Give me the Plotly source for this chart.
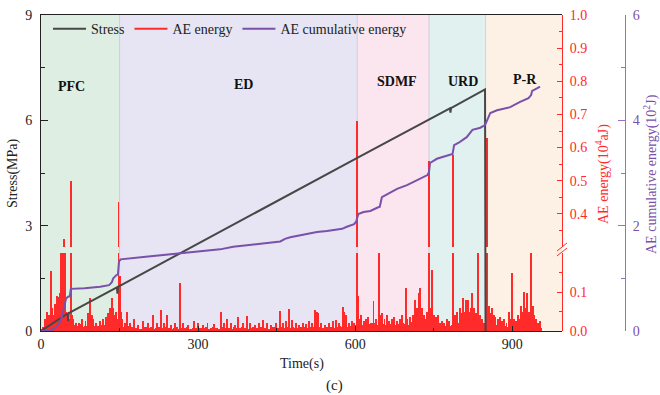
import plotly.graph_objects as go

# ---------------- data ----------------
stress_t = [0, 51, 52, 53, 145, 146, 147, 266, 323, 604, 781, 782, 783, 848, 849]
stress_v = [0, 0.50, 0.28, 0.51, 1.24, 1.06, 1.26, 2.22, 2.68, 4.93, 6.34, 6.22, 6.35, 6.88, 0]

cum_t = [0, 12, 20, 30, 38, 43, 48, 52, 55, 57, 60, 83, 113, 130, 135, 138, 144, 147, 149, 152,
         200, 266, 304, 342, 367, 400, 432, 457, 466, 476, 495, 527, 546, 575, 584, 598, 602,
         604, 606, 616, 629, 642, 647, 651, 661, 680, 699, 718, 738, 741, 743, 756, 782, 786,
         789, 797, 813, 820, 824, 839, 848, 852, 858, 871, 896, 915, 931, 936, 938, 948, 953]
cum_v = [0, 0, 0.02, 0.08, 0.2, 0.4, 0.62, 0.65, 0.66, 0.8, 0.8, 0.81, 0.84, 0.87, 0.92, 1.0,
         1.06, 1.08, 1.32, 1.36, 1.41, 1.47, 1.51, 1.55, 1.60, 1.63, 1.67, 1.70, 1.75, 1.78,
         1.82, 1.88, 1.90, 1.94, 1.98, 2.03, 2.08, 2.18, 2.22, 2.26, 2.28, 2.34, 2.36, 2.54,
         2.60, 2.70, 2.77, 2.86, 2.96, 3.02, 3.19, 3.27, 3.34, 3.36, 3.53, 3.57, 3.68, 3.76,
         3.82, 3.86, 3.91, 4.0, 4.14, 4.19, 4.25, 4.35, 4.42, 4.48, 4.56, 4.61, 4.64]

# AE energy background level, one value every 5 s from 0 to 955 s
floor_step = 5
floor_v = [
    0.004, 0.01, 0.02, 0.03, 0.035, 0.04, 0.045, 0.05, 0.035, 0.04, 0.03, 0.025,
    0.02, 0.015, 0.012, 0.018, 0.01, 0.012, 0.02, 0.015, 0.012, 0.01, 0.012, 0.015,
    0.015, 0.02, 0.025, 0.03, 0.02, 0.03, 0.015, 0.012, 0.01, 0.012, 0.008, 0.01,
    0.008, 0.01, 0.006, 0.008, 0.01, 0.007, 0.009, 0.006, 0.008, 0.01, 0.007, 0.008,
    0.009, 0.007, 0.006, 0.008, 0.01, 0.006, 0.008, 0.007, 0.009, 0.006, 0.008, 0.007,
    0.006, 0.008, 0.007, 0.009, 0.006, 0.008, 0.01, 0.007, 0.006, 0.009, 0.008, 0.007,
    0.008, 0.006, 0.009, 0.007, 0.008, 0.01, 0.007, 0.006, 0.008, 0.009, 0.007, 0.008,
    0.009, 0.007, 0.008, 0.006, 0.009, 0.01, 0.008, 0.007, 0.009, 0.008, 0.01, 0.008,
    0.009, 0.008, 0.007, 0.01, 0.008, 0.009, 0.007, 0.01, 0.009, 0.008, 0.01, 0.009,
    0.008, 0.01, 0.009, 0.011, 0.008, 0.01, 0.012, 0.009, 0.011, 0.01, 0.012, 0.011,
    0.015, 0.02, 0.018, 0.015, 0.02, 0.017, 0.015, 0.02, 0.018, 0.016, 0.02, 0.018,
    0.015, 0.018, 0.02, 0.016, 0.015, 0.018, 0.02, 0.017, 0.015, 0.02, 0.022, 0.025,
    0.025, 0.02, 0.018, 0.02, 0.015, 0.012, 0.01, 0.008, 0.01, 0.012, 0.01, 0.012,
    0.012, 0.015, 0.018, 0.02, 0.022, 0.025, 0.022, 0.02, 0.025, 0.022, 0.018, 0.02,
    0.018, 0.015, 0.02, 0.025, 0.022, 0.018, 0.015, 0.012, 0.015, 0.012, 0.01, 0.012,
    0.012, 0.015, 0.018, 0.02, 0.022, 0.025, 0.02, 0.018, 0.015, 0.012, 0.01, 0.008,
]
floor_t = [i * floor_step for i in range(len(floor_v))]

# individual AE energy spikes (time s, energy 10^4 aJ)
peak_t = [8, 12, 15, 19, 22, 25, 27, 29, 31, 33, 35, 36, 38, 39, 40, 41, 42, 43, 44, 45, 46,
          48, 50, 52, 54, 57, 59, 62, 66, 72, 78, 85, 90, 94, 97, 100, 105, 112, 118, 124,
          128, 131, 133, 135, 137, 140, 144, 148, 150, 152, 155, 160, 164,
          170, 178, 185, 195, 204, 214, 222, 229, 235, 241, 248, 256, 266, 272, 280, 292,
          300, 310, 318, 330, 343, 350, 355, 362, 370, 377, 385, 393, 400, 408, 416, 424,
          432, 440, 449, 457, 463, 468, 474, 480, 487, 493, 500, 506, 512, 518, 524, 527,
          529, 535, 542, 550, 557, 563, 570, 577, 579, 583, 588, 594, 598,
          604, 606, 608, 612, 616, 620, 625, 630, 635, 640, 646, 649, 652, 656, 660, 665,
          670, 675, 680, 685, 690, 697, 700, 705, 710, 715, 718, 721, 724, 728, 732, 736, 738,
          741, 744, 747, 750, 754, 758, 762, 766, 770, 775, 780, 787, 790, 795, 800, 803,
          806, 809, 812, 814, 816, 819, 822, 824, 827, 830, 835, 838, 842, 846,
          852, 854, 856, 859, 862, 865, 868, 872, 876, 880, 885, 889, 893, 897, 900, 904,
          908, 911, 914, 917, 920, 923, 926, 929, 932, 936, 939, 942, 946, 950, 953]
peak_v = [0.03, 0.05, 0.04, 0.153, 0.06, 0.04, 0.07, 0.054, 0.09, 0.07, 0.087, 0.097, 0.25,
          0.11, 0.26, 0.2, 0.27, 0.25, 0.325, 0.24, 0.26,
          0.05, 0.04, 0.045, 0.03, 0.5, 0.04, 0.03, 0.02, 0.02, 0.03, 0.025, 0.045, 0.085,
          0.04, 0.03, 0.02, 0.025, 0.03, 0.035, 0.045, 0.06, 0.045, 0.085, 0.06, 0.04, 0.05,
          0.435, 0.14, 0.05, 0.03, 0.02, 0.05,
          0.02, 0.03, 0.015, 0.025, 0.02, 0.04, 0.02, 0.054, 0.02, 0.04, 0.015, 0.02, 0.124,
          0.02, 0.015, 0.025, 0.02, 0.015, 0.02, 0.018, 0.05, 0.02, 0.03, 0.02, 0.015, 0.036,
          0.02, 0.038, 0.02, 0.015, 0.02, 0.028, 0.02, 0.015, 0.02, 0.052, 0.02, 0.025,
          0.056, 0.028, 0.02, 0.015, 0.02, 0.018, 0.025, 0.02, 0.053, 0.05, 0.045, 0.02,
          0.015, 0.02, 0.025, 0.028, 0.02, 0.062, 0.048, 0.04, 0.02, 0.025, 0.02,
          0.68, 0.09, 0.03, 0.04, 0.025, 0.03, 0.035, 0.02, 0.078, 0.03, 0.22, 0.04, 0.045,
          0.03, 0.04, 0.025, 0.03, 0.035, 0.025, 0.03, 0.04, 0.11, 0.03, 0.035, 0.04, 0.08,
          0.06, 0.097, 0.11, 0.06, 0.04, 0.03, 0.05,
          0.56, 0.06, 0.156, 0.04, 0.035, 0.04, 0.02, 0.025, 0.02, 0.03, 0.025, 0.578, 0.04,
          0.05, 0.06, 0.045, 0.085, 0.05, 0.08, 0.07, 0.08, 0.05, 0.06, 0.097, 0.06, 0.045,
          0.22, 0.04, 0.03, 0.02,
          0.63, 0.05, 0.065, 0.045, 0.06, 0.04, 0.035, 0.03, 0.035, 0.025, 0.03, 0.02, 0.05,
          0.03, 0.149, 0.03, 0.025, 0.04, 0.03, 0.065, 0.05, 0.1, 0.06, 0.097, 0.05, 0.22,
          0.065, 0.04, 0.03, 0.02, 0.025]

phase_names = ["PFC", "ED", "SDMF", "URD", "P-R"]
phase_bounds = [0, 150, 604, 741, 849, 995]
phase_label_t = [59, 386, 680, 805, 925]
phase_label_stress = [6.95, 7.03, 7.12, 7.12, 7.15]

x_ticks = [0, 300, 600, 900]
stress_ticks = [0, 3, 6, 9]
ae_low_ticks = [0.0, 0.1]
ae_high_ticks = [0.4, 0.5, 0.6, 0.7, 0.8, 0.9, 1.0]
cum_ticks = [0, 2, 4, 6]

# ---------------- style ----------------
FONT = "Liberation Serif"
phase_colors = ["#deeee2", "#e7e5f3", "#fbe5ef", "#e0f1f0", "#fdf0e5"]
RED = "#ff2a2a"
PURPLE = "#7a50aa"
PURPLE_AX = "#9473c0"
GRAY = "#474747"

W, H = 660, 395
ML, MR, MT, MB = 41, 35, 15, 64
PW = W - ML - MR
PH = H - MT - MB
plot_right_px = 562
XD = (plot_right_px - ML) / PW
low_top_px = 253
high_bot_px = 247
LOW_TOP = (H - MB - low_top_px) / PH
HIGH_BOT = (H - MB - high_bot_px) / PH


def px_x(p):
    return (p - ML) / PW


def px_y(p):
    return (H - MB - p) / PH


fig = go.Figure()

# legend-ordered traces
fig.add_trace(go.Scatter(x=stress_t, y=stress_v, mode="lines", name="Stress",
                         line=dict(color=GRAY, width=2), xaxis="x", yaxis="y3"))
fig.add_trace(go.Scatter(x=[None], y=[None], mode="lines", name="AE energy",
                         line=dict(color=RED, width=2), xaxis="x", yaxis="y3"))
fig.add_trace(go.Scatter(x=cum_t, y=cum_v, mode="lines", name="AE cumulative energy",
                         line=dict(color=PURPLE, width=2), xaxis="x", yaxis="y4"))

# AE energy bars on the two halves of the broken axis
for ax in ["y", "y2"]:
    fig.add_trace(go.Bar(x=floor_t, y=floor_v, width=floor_step, marker=dict(color=RED, line=dict(width=0)),
                         showlegend=False, hoverinfo="skip", xaxis="x", yaxis=ax))
    fig.add_trace(go.Bar(x=peak_t, y=peak_v, width=1.8, marker=dict(color=RED, line=dict(width=0)),
                         showlegend=False, hoverinfo="skip", xaxis="x", yaxis=ax))

shapes = []
for i, c in enumerate(phase_colors):
    shapes.append(dict(type="rect", xref="x", yref="paper", x0=phase_bounds[i], x1=phase_bounds[i + 1],
                       y0=0, y1=1, fillcolor=c, line=dict(width=0), layer="below"))
for b in phase_bounds[1:-1]:
    shapes.append(dict(type="line", xref="x", yref="paper", x0=b, x1=b, y0=0, y1=1,
                       line=dict(color="rgba(150,150,175,0.35)", width=1), layer="below"))
# axis break marks
for dy in [0, 5]:
    shapes.append(dict(type="line", xref="paper", yref="paper",
                       x0=px_x(557), x1=px_x(567), y0=px_y(254 - dy + 2), y1=px_y(246 - dy + 2),
                       line=dict(color=RED, width=1)))

annotations = []
for name, t, s in zip(phase_names, phase_label_t, phase_label_stress):
    annotations.append(dict(x=t, y=s, xref="x", yref="y3", text="<b>%s</b>" % name, showarrow=False,
                            xanchor="center", yanchor="middle",
                            font=dict(family=FONT, size=14, color="#111")))


def title_ann(x, y, text, color, angle=0, size=14):
    return dict(x=px_x(x), y=px_y(y), xref="paper", yref="paper", text=text, textangle=angle,
                showarrow=False, xanchor="center", yanchor="middle",
                font=dict(family=FONT, size=size, color=color))


annotations += [
    title_ann(13, 173, "Stress(MPa)", "#222", -90),
    title_ann(602, 174, "AE energy(10<sup>4</sup>aJ)", RED, -90),
    title_ann(650, 174, "AE cumulative energy(10<sup>2</sup>J)", PURPLE, -90),
    title_ann(302, 364, "Time(s)", "#222"),
    title_ann(334, 385, "(c)", "#222", 0, 15),
]

tickfont = dict(family=FONT, size=14, color="#222")
fig.update_layout(
    width=W, height=H,
    margin=dict(l=ML, r=MR, t=MT, b=MB, autoexpand=False),
    paper_bgcolor="white", plot_bgcolor="rgba(0,0,0,0)",
    barmode="overlay", bargap=0,
    font=dict(family=FONT, size=14, color="#222"),
    showlegend=True,
    legend=dict(orientation="h", x=px_x(48), y=1.006, xanchor="left", yanchor="top",
                bgcolor="rgba(0,0,0,0)", font=dict(family=FONT, size=14, color="#222"),
                itemwidth=33, tracegroupgap=0),
    xaxis=dict(domain=[0, XD], range=[0, 995], anchor="y3", showgrid=False, zeroline=False,
               showline=True, linecolor="#222", linewidth=1, mirror=True,
               ticks="inside", ticklen=5, tickcolor="#222", tickvals=x_ticks,
               minor=dict(tickvals=[150, 450, 750], ticks="inside", ticklen=3, tickcolor="#222"),
               tickfont=tickfont),
    yaxis=dict(domain=[0, LOW_TOP], range=[0, 0.2], anchor="x", side="right", showgrid=False,
               zeroline=False, showline=True, linecolor=RED, linewidth=1,
               ticks="inside", ticklen=5, tickcolor=RED, tickvals=ae_low_ticks,
               ticktext=["%.1f" % v for v in ae_low_ticks],
               minor=dict(tickvals=[0.05, 0.15], ticks="inside", ticklen=3, tickcolor=RED),
               tickfont=dict(family=FONT, size=14, color=RED), ticklabelstandoff=4),
    yaxis2=dict(domain=[HIGH_BOT, 1], range=[0.3, 1.0], anchor="x", side="right", showgrid=False,
                zeroline=False, showline=True, linecolor=RED, linewidth=1,
                ticks="inside", ticklen=5, tickcolor=RED, tickvals=ae_high_ticks,
                ticktext=["%.1f" % v for v in ae_high_ticks],
                minor=dict(tickvals=[0.35, 0.45, 0.55, 0.65, 0.75, 0.85, 0.95], ticks="inside",
                           ticklen=3, tickcolor=RED),
                tickfont=dict(family=FONT, size=14, color=RED), ticklabelstandoff=4),
    yaxis3=dict(domain=[0, 1], range=[0, 9], anchor="x", side="left", showgrid=False, zeroline=False,
                showline=True, linecolor="#222", linewidth=1, ticks="inside", ticklen=7,
                tickcolor="#222", tickvals=stress_ticks,
                minor=dict(tickvals=[1.5, 4.5, 7.5], ticks="inside", ticklen=4, tickcolor="#222"),
                tickfont=tickfont, ticklabelstandoff=5),
    yaxis4=dict(overlaying="y3", anchor="free", position=1.0, side="right", range=[0, 6],
                showgrid=False, zeroline=False, showline=True, linecolor=PURPLE_AX, linewidth=1,
                ticks="inside", ticklen=7, tickcolor=PURPLE_AX, tickvals=cum_ticks,
                minor=dict(tickvals=[1, 3, 5], ticks="inside", ticklen=4, tickcolor=PURPLE_AX),
                tickfont=dict(family=FONT, size=14, color=PURPLE), ticklabelstandoff=4),
    shapes=shapes,
    annotations=annotations,
)

fig.write_html("out.html")
